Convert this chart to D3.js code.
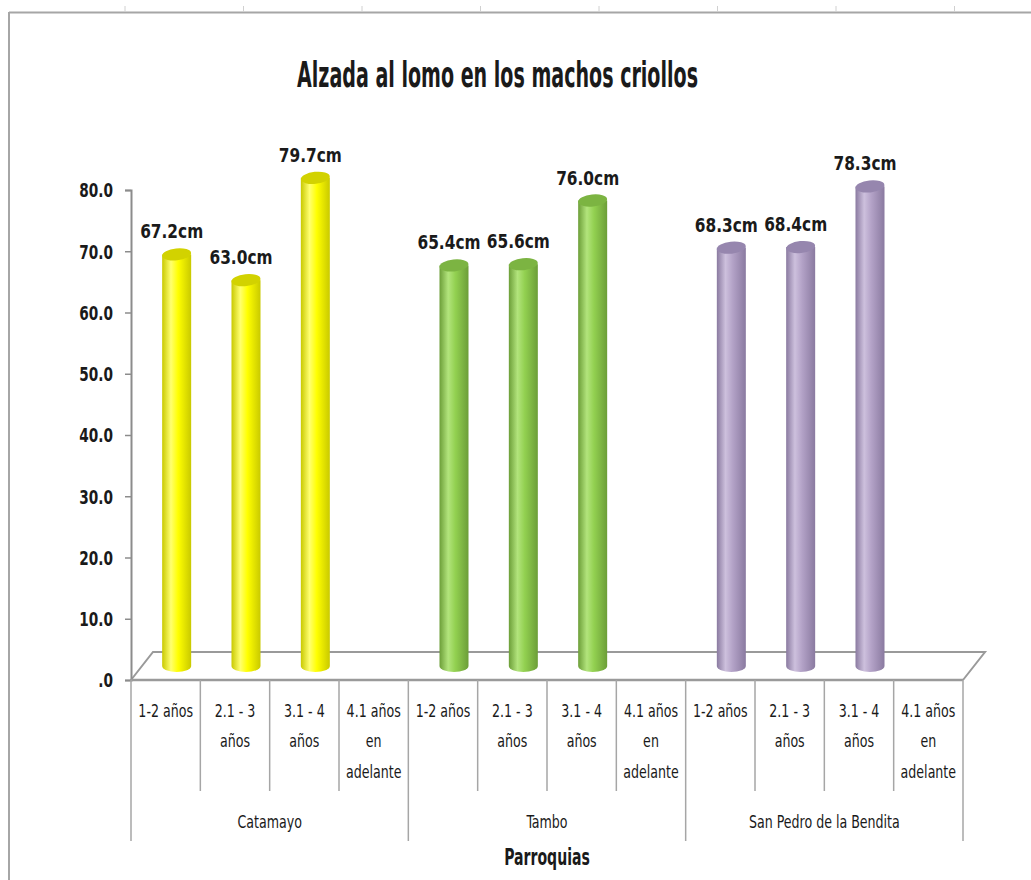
<!DOCTYPE html>
<html>
<head>
<meta charset="utf-8">
<script src="https://cdn.jsdelivr.net/npm/d3@7"></script>
<style>
  html, body { margin: 0; padding: 0; background: #fff; }
  svg text { font-family: "DejaVu Sans Condensed", "DejaVu Sans", sans-serif; fill: #1a1a1a; }
</style>
</head>
<body>
<svg id="chart" width="1031" height="880"></svg>
<script>
/* datos */
const parroquias = ["Catamayo", "Tambo", "San Pedro de la Bendita"];
const edades = ["1-2 años", "2.1 - 3 años", "3.1 - 4 años", "4.1 años en adelante"];
const edadLineas = [["1-2 años"], ["2.1 - 3", "años"], ["3.1 - 4", "años"], ["4.1 años", "en", "adelante"]];
const catamayo = [67.2, 63.0, 79.7, null];
const tambo = [65.4, 65.6, 76.0, null];
const sanPedro = [68.3, 68.4, 78.3, null];
const yTicks = [0, 10, 20, 30, 40, 50, 60, 70, 80];
const colores = [
  {base: "#FFFF00", dark: "#C9C900", light: "#FFFF70", top: "#D2D200"},
  {base: "#92D050", dark: "#6C9E38", light: "#B2E47C", top: "#7CB442"},
  {base: "#B3A2C7", dark: "#8A7AA0", light: "#CDC0DD", top: "#9686AE"}
];

const series = [catamayo, tambo, sanPedro];
const rows = [];
parroquias.forEach(function(p, gi) {
  edades.forEach(function(e, ai) {
    rows.push({key: p + "|" + e, parroquia: p, gi: gi, ai: ai, v: series[gi][ai]});
  });
});

const svg = d3.select("#chart");
// texto angosto (tipo Calibri): escala horizontal
function at(px, py, sx) { return "translate(" + px + "," + py + ") scale(" + sx + ",1)"; }

/* marco de hoja */
svg.append("line").attr("x1", 9).attr("x2", 1031).attr("y1", 12.5).attr("y2", 12.5)
  .attr("stroke", "#a6a6a6").attr("stroke-width", 2);
svg.append("line").attr("x1", 9).attr("x2", 9).attr("y1", 12).attr("y2", 880)
  .attr("stroke", "#a6a6a6").attr("stroke-width", 2);
svg.selectAll(".col").data(d3.range(8)).enter().append("line")
  .attr("x1", function(d) { return 125 + d * 118.5; })
  .attr("x2", function(d) { return 125 + d * 118.5; })
  .attr("y1", 6).attr("y2", 12).attr("stroke", "#d0d0d0");

/* titulo */
svg.append("text").attr("x", 497.5).attr("y", 87).attr("text-anchor", "middle")
  .attr("font-size", 36).attr("font-weight", "bold")
  .attr("textLength", 401).attr("lengthAdjust", "spacingAndGlyphs")
  .text("Alzada al lomo en los machos criollos");

/* escalas */
const x = d3.scaleBand().domain(rows.map(function(d) { return d.key; })).range([131, 963]).padding(0);
const y = d3.scaleLinear().domain([0, 80]).range([680, 190]);
const bw = x.bandwidth();
const depth = {dx: 22, dy: -28};

/* piso 3D */
const x0 = x.range()[0], x1 = x.range()[1], y0 = y(0);
svg.append("path")
  .attr("d", "M" + x0 + "," + y0 + "L" + (x0 + depth.dx) + "," + (y0 + depth.dy) +
    "L" + (x1 + depth.dx) + "," + (y0 + depth.dy) + "L" + x1 + "," + y0)
  .attr("fill", "none").attr("stroke", "#9a9a9a").attr("stroke-width", 2);

/* eje y */
const yAxis = svg.append("g").attr("transform", "translate(" + x0 + ",0)")
  .call(d3.axisLeft(y).tickValues(yTicks).tickSize(6).tickPadding(13)
    .tickFormat(function(d) { return d === 0 ? ".0" : d.toFixed(1); }));
yAxis.attr("font-family", null);
yAxis.select(".domain").attr("stroke", "#8c8c8c").attr("stroke-width", 2);
yAxis.selectAll(".tick line").attr("stroke", "#8c8c8c").attr("stroke-width", 1.5);
yAxis.selectAll(".tick text").attr("font-size", 19).attr("font-weight", "bold")
  .attr("fill", "#1a1a1a").attr("dy", "0.36em")
  .attr("x", null).attr("transform", "translate(-18,0) scale(0.8,1)");

/* eje x */
svg.append("line").attr("x1", x0).attr("x2", x1).attr("y1", y0).attr("y2", y0)
  .attr("stroke", "#9a9a9a").attr("stroke-width", 2.5);
svg.selectAll(".div").data(rows.concat([null])).enter().append("line")
  .attr("x1", function(d, i) { return x0 + i * bw; })
  .attr("x2", function(d, i) { return x0 + i * bw; })
  .attr("y1", y0)
  .attr("y2", function(d, i) { return i % 4 === 0 ? 841 : 791; })
  .attr("stroke", "#a6a6a6").attr("stroke-width", 1.5);

const lab = svg.selectAll(".cat").data(rows).enter().append("text")
  .attr("text-anchor", "middle").attr("font-size", 18)
  .attr("transform", function(d) { return at(x(d.key) + bw / 2, 717, 0.78); });
lab.selectAll("tspan").data(function(d) { return edadLineas[d.ai]; }).enter().append("tspan")
  .attr("x", 0).attr("y", function(d, i) { return i * 30.5; }).text(function(d) { return d; });

svg.selectAll(".grp").data(parroquias).enter().append("text")
  .attr("text-anchor", "middle").attr("font-size", 18)
  .attr("transform", function(d) {
    return at((x(d + "|" + edades[0]) + x(d + "|" + edades[3]) + bw) / 2, 828, 0.78);
  })
  .text(function(d) { return d; });

svg.append("text").attr("transform", at((x0 + x1) / 2, 865, 0.68)).attr("text-anchor", "middle")
  .attr("font-size", 23).attr("font-weight", "bold").text("Parroquias");

/* gradientes */
const defs = svg.append("defs");
colores.forEach(function(c, i) {
  const g = defs.append("linearGradient").attr("id", "cyl" + i).attr("x1", "0").attr("x2", "1").attr("y1", "0").attr("y2", "0");
  g.append("stop").attr("offset", "0%").attr("stop-color", c.dark);
  g.append("stop").attr("offset", "30%").attr("stop-color", c.light);
  g.append("stop").attr("offset", "55%").attr("stop-color", c.base);
  g.append("stop").attr("offset", "100%").attr("stop-color", c.dark);
});

/* cilindros */
const cw = 29, ry = 6;
const barData = rows.filter(function(d) { return d.v != null; });
const bars = svg.selectAll(".bar").data(barData).enter().append("g")
  .attr("class", "bar")
  .attr("transform", function(d) { return "translate(" + (x(d.key) + bw / 2 + depth.dx / 2) + ",0)"; });
bars.append("path")
  .attr("d", function(d) {
    const t = y(d.v) + depth.dy / 2, b = y(0) + depth.dy / 2;
    return "M" + (-cw / 2) + "," + t + "L" + (-cw / 2) + "," + b +
      "A" + (cw / 2) + "," + ry + " 0 0 0 " + (cw / 2) + "," + b +
      "L" + (cw / 2) + "," + t + "Z";
  })
  .attr("fill", function(d) { return "url(#cyl" + d.gi + ")"; });
bars.append("ellipse")
  .attr("cx", 0).attr("cy", function(d) { return y(d.v) + depth.dy / 2; })
  .attr("rx", cw / 2).attr("ry", ry)
  .attr("transform", function(d) { return "rotate(-6,0," + (y(d.v) + depth.dy / 2) + ")"; })
  .attr("fill", function(d) { return colores[d.gi].top; });

/* etiquetas de datos */
svg.selectAll(".val").data(barData).enter().append("text")
  .attr("text-anchor", "middle").attr("font-size", 19).attr("font-weight", "bold")
  .attr("transform", function(d) {
    return at(x(d.key) + bw / 2 + 6, y(d.v) + depth.dy / 2 - 16, 0.9);
  })
  .text(function(d) { return d.v.toFixed(1) + "cm"; });
</script>
</body>
</html>
